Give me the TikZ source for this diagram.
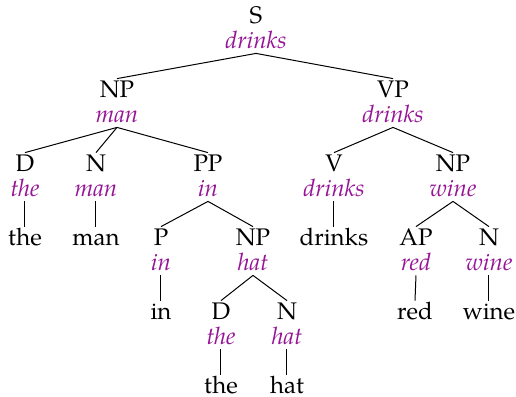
\documentclass[tikz,border=0pt]{standalone}
\usepackage{fontspec}
\setmainfont{TeX Gyre Pagella}
\definecolor{headcol}{RGB}{150,20,150}
\begin{document}
\begin{tikzpicture}[x=0.5pt,y=-0.5pt,
  cat/.style={anchor=base, inner xsep=1pt, inner ysep=0pt,
    text height=9pt, text depth=0pt, font=\fontsize{12}{14}\selectfont},
  head/.style={anchor=base, text=headcol, inner xsep=1pt, inner ysep=0pt,
    text height=8pt, text depth=2.5pt, font=\fontsize{12}{14}\selectfont\itshape},
  branch/.style={line width=0.5pt}]
\useasboundingbox (0,0) rectangle (516,397);

% level 0
\node[cat]  (sC)   at (256,23)  {S};
\node[head] (sH)   at (256,48)  {drinks};
% level 1
\node[cat]  (np1C) at (117,97)  {NP};
\node[head] (np1H) at (117,122) {man};
\node[cat]  (vpC)  at (393,97)  {VP};
\node[head] (vpH)  at (393,122) {drinks};
% level 2
\node[cat]  (d1C)  at (25,171)  {D};
\node[head] (d1H)  at (25,196)  {the};
\node[cat]  (n1C)  at (96,171)  {N};
\node[head] (n1H)  at (96,196)  {man};
\node[cat]  (ppC)  at (208,171) {PP};
\node[head] (ppH)  at (208,196) {in};
\node[cat]  (vC)   at (334,171) {V};
\node[head] (vH)   at (334,196) {drinks};
\node[cat]  (np2C) at (453,171) {NP};
\node[head] (np2H) at (453,196) {wine};
% level 3
\node[cat]  (w1)   at (25,245)  {the};
\node[cat]  (w2)   at (96,245)  {man};
\node[cat]  (pC)   at (161,245) {P};
\node[head] (pH)   at (161,270) {in};
\node[cat]  (np3C) at (253,245) {NP};
\node[head] (np3H) at (253,270) {hat};
\node[cat]  (w3)   at (334,245) {drinks};
\node[cat]  (apC)  at (416,245) {AP};
\node[head] (apH)  at (416,270) {red};
\node[cat]  (n2C)  at (489,245) {N};
\node[head] (n2H)  at (489,270) {wine};
% level 4
\node[cat]  (w4)   at (161,319) {in};
\node[cat]  (d2C)  at (221,319) {D};
\node[head] (d2H)  at (221,344) {the};
\node[cat]  (n3C)  at (287,319) {N};
\node[head] (n3H)  at (287,344) {hat};
\node[cat]  (w5)   at (415,319) {red};
\node[cat]  (w6)   at (489,319) {wine};
% level 5
\node[cat]  (w7)   at (221,393) {the};
\node[cat]  (w8)   at (287,393) {hat};

% branches
\draw[branch] (sH.south) -- (np1C.north);
\draw[branch] (sH.south) -- (vpC.north);
\draw[branch] (np1H.south) -- (d1C.north);
\draw[branch] (np1H.south) -- (n1C.north);
\draw[branch] (np1H.south) -- (ppC.north);
\draw[branch] (vpH.south) -- (vC.north);
\draw[branch] (vpH.south) -- (np2C.north);
\draw[branch] (d1H.south) -- (w1.north);
\draw[branch] (n1H.south) -- (w2.north);
\draw[branch] (ppH.south) -- (pC.north);
\draw[branch] (ppH.south) -- (np3C.north);
\draw[branch] (vH.south) -- (w3.north);
\draw[branch] (np2H.south) -- (apC.north);
\draw[branch] (np2H.south) -- (n2C.north);
\draw[branch] (pH.south) -- (w4.north);
\draw[branch] (np3H.south) -- (d2C.north);
\draw[branch] (np3H.south) -- (n3C.north);
\draw[branch] (apH.south) -- (w5.north);
\draw[branch] (n2H.south) -- (w6.north);
\draw[branch] (d2H.south) -- (w7.north);
\draw[branch] (n3H.south) -- (w8.north);
\end{tikzpicture}
\end{document}
